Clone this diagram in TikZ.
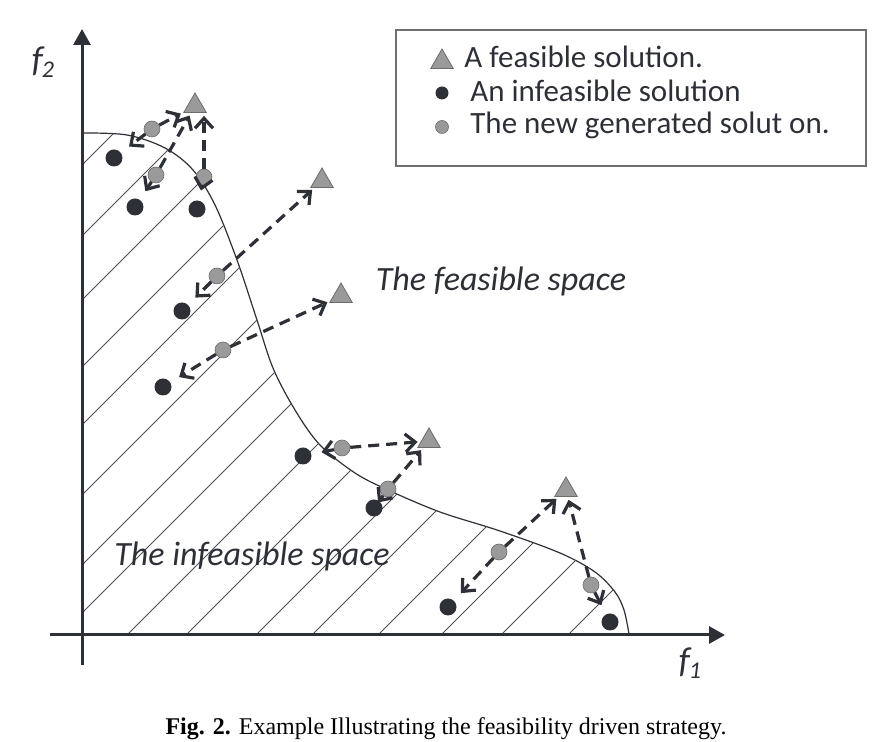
\documentclass[tikz,border=0pt]{standalone}
\usepackage{fontspec}
\setmainfont{Liberation Serif}
\setsansfont{Carlito}
\usetikzlibrary{arrows.meta,positioning,shapes.geometric}
\definecolor{ink}{HTML}{2D3037}
\definecolor{dotgray}{HTML}{9A9A9A}
\definecolor{boxgray}{HTML}{707070}
\newcommand{\fsub}[1]{{\fontsize{18}{20}\selectfont\itshape f}\kern-0.5pt\raisebox{-3pt}{\fontsize{12}{14}\selectfont\itshape #1}}

\begin{document}
\begin{tikzpicture}[x=0.5pt,y=-0.5pt,every node/.style={font=\sffamily,text=ink},
    feas/.style={regular polygon,regular polygon sides=3,fill=dotgray,draw=gray!85!black,
                 line width=0.4pt,minimum size=13pt,inner sep=0pt},
    infeas/.style={circle,fill=ink,minimum size=8.5pt,inner sep=0pt},
    newsol/.style={circle,fill=dotgray,draw=gray!85!black,line width=0.3pt,minimum size=8pt,inner sep=0pt},
    axis/.style={line width=1.5pt,draw=ink,-{Triangle[length=8pt,width=8.5pt]}},
    move/.style={line width=1.6pt,draw=ink,dash pattern=on 5.5pt off 3.5pt,
                 -{Straight Barb[length=5pt,width=9pt]}},
    tofeas/.style={move,shorten >=1.5pt},
    toinf/.style={move,shorten >=5pt},
    legtext/.style={anchor=base west,inner sep=0pt,font=\sffamily\fontsize{15.5}{18}\selectfont},
    region/.style={font=\sffamily\itshape\fontsize{17}{20}\selectfont}]
  \useasboundingbox (0,0) rectangle (890,742);
  % infeasible region with hatching
  \begin{scope}[draw=ink,line width=0.6pt]
    \draw[clip] (82,634) -- (82,133) -- plot[smooth,tension=0.55] coordinates {
      (82,133) (127,135) (165,148) (193,170) (215,205) (237,260) (257,320) (273,368)
      (295,410) (320,445) (355,473) (388,490) (440,512) (500,531) (560,553) (595,572)
      (615,592) (624,610) (629,634)} -- cycle;
    \foreach \k in {247,318,382,449,507,577,647,695,762,821,891,947,1013,1076,1136,1203}
      \draw[ink!85,line width=0.5pt] (\k-700,700) -- (\k,0);
  \end{scope}
  \draw[axis] (50,635) -- (725,635);
  \draw[axis] (82,665) -- (82,29);
  \node (f1) at (690,663) {\fsub{1}};
  \node (f2) at (43,62) {\fsub{2}};

  \node[feas] (t1) at (195,106) {};
  \node[feas] (t2) at (322,181) {};
  \node[feas] (t3) at (341,296) {};
  \node[feas] (t4) at (429,441) {};
  \node[feas] (t5) at (566,490) {};

  \node[infeas] (b1) at (114,158) {};
  \node[infeas] (b2) at (135,207) {};
  \node[infeas] (b3) at (197,209) {};
  \node[infeas] (b4) at (182,311) {};
  \node[infeas] (b5) at (163,387) {};
  \node[infeas] (b6) at (303,456) {};
  \node[infeas] (b7) at (374,508) {};
  \node[infeas] (b8) at (448,607) {};
  \node[infeas] (b9) at (610,622) {};

  \node[newsol] (g1) at (152,129) {};
  \node[newsol] (g2) at (156,175) {};
  \node[newsol] (g3) at (204,177) {};
  \node[newsol] (g4) at (217,276) {};
  \node[newsol] (g5) at (223,350) {};
  \node[newsol] (g6) at (342,448) {};
  \node[newsol] (g7) at (388,489) {};
  \node[newsol] (g8) at (499,552) {};
  \node[newsol] (g9) at (591,585) {};

  \draw[tofeas] (g1) -- (t1);
  \draw[toinf]  (g1) -- (b1);
  \draw[tofeas] (g2) -- (t1);
  \draw[toinf]  (g2) -- (b2);
  \draw[tofeas] (g3) -- (g3 |- t1.south);
  \draw[toinf]  (g3) -- (b3);
  \draw[tofeas] (g4) -- (t2);
  \draw[toinf]  (g4) -- (b4);
  \draw[tofeas] (g5) -- (t3);
  \draw[toinf]  (g5) -- (b5);
  \draw[tofeas] (g6) -- (t4);
  \draw[toinf]  (g6) -- (b6);
  \draw[tofeas] (g7) -- (t4);
  \draw[move,shorten >=-1pt] (g7) -- (b7);
  \draw[tofeas] (g8) -- (t5);
  \draw[toinf]  (g8) -- (b8);
  \draw[tofeas] (g9) -- (t5);
  \draw[toinf]  (g9) -- (b9);

  \node[region] (fs) at (501,281) {The feasible space};
  \node[region] (ifs) at (252,556) {The infeasible space};

  \node[draw=boxgray,line width=1pt,minimum width=235pt,minimum height=68pt] (legend) at (631,98) {};
  \node[feas] (lt) at (442,62) {};
  \node[infeas,minimum size=6.5pt] (lb) at (442,93) {};
  \node[newsol,minimum size=6.5pt] (lg) at (442,127) {};
  \node[legtext] (lt-text) at (464,68) {A feasible solution.};
  \node[legtext] (lb-text) at (470,102) {An infeasible solution};
  \node[legtext] (lg-text) at (470,134) {The new generated solut on.};

  \node[anchor=base,font=\rmfamily\fontsize{12}{14}\selectfont,text=black] (cap) at (446,735)
       {\textbf{Fig. 2.} Example Illustrating the feasibility driven strategy.};
\end{tikzpicture}
\end{document}
